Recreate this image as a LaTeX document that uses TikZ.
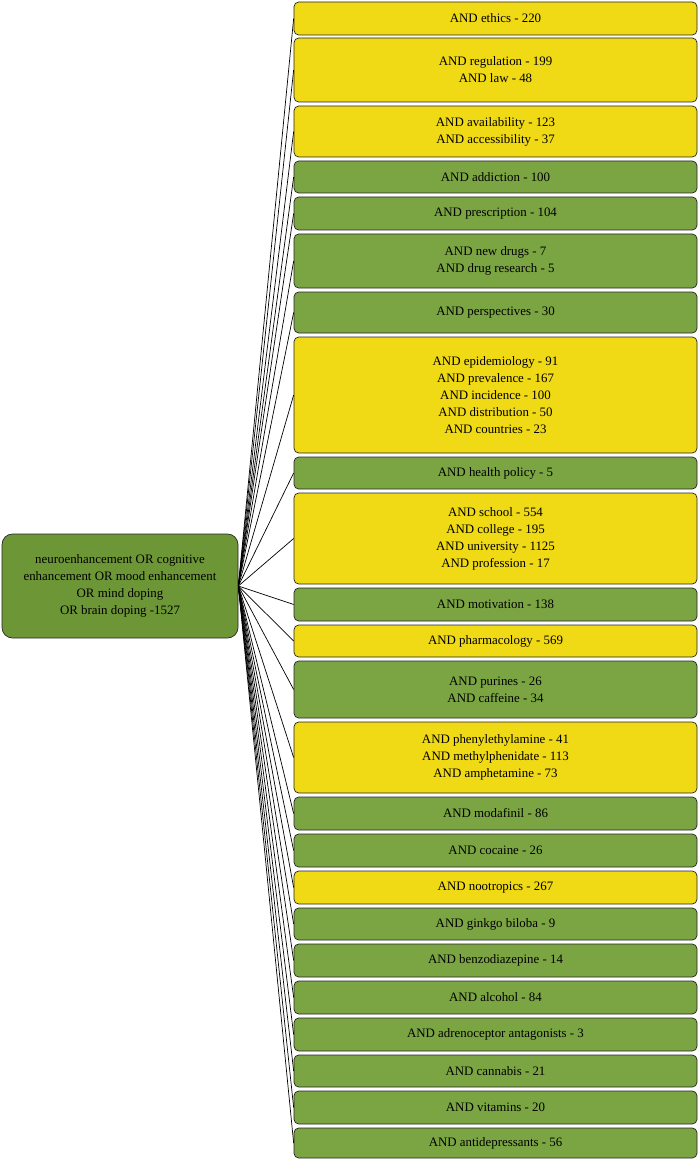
\documentclass[tikz,border=0pt]{standalone}
\usepackage{fontspec}
\setmainfont{Liberation Serif}
\definecolor{boxyellow}{HTML}{F0D915}
\definecolor{boxgreen}{HTML}{7BA443}
\definecolor{rootgreen}{HTML}{6D9736}
\tikzset{
  term/.style={draw=black!85, line width=0.6pt, rounded corners=4pt, align=center,
    font=\fontsize{11}{14.5}\selectfont, inner sep=0pt},
  root/.style={term, fill=rootgreen, rounded corners=9pt},
  link/.style={line width=0.6pt}
}
\begin{document}
\begin{tikzpicture}[x=0.03cm, y=-0.03cm]
  \useasboundingbox (0,0) rectangle (699,1160);
  \node[root, minimum width=236*0.03cm, minimum height=104*0.03cm] (root) at (120,586)
    {neuroenhancement OR cognitive\\enhancement OR mood enhancement\\OR mind doping\\OR brain doping -1527};
  % search terms: top / bottom / colour / label
  \foreach \top/\bot/\col/\txt [count=\i] in {
    2/35/boxyellow/{AND ethics - 220},
    38/102/boxyellow/{AND regulation - 199\\AND law - 48},
    106/157/boxyellow/{AND availability - 123\\AND accessibility - 37},
    161/193/boxgreen/{AND addiction - 100},
    197/230/boxgreen/{AND prescription - 104},
    234/288/boxgreen/{AND new drugs - 7\\AND drug research - 5},
    292/333/boxgreen/{AND perspectives - 30},
    337/453/boxyellow/{AND epidemiology - 91\\AND prevalence - 167\\AND incidence - 100\\AND distribution - 50\\AND countries - 23},
    457/489/boxgreen/{AND health policy - 5},
    493/584/boxyellow/{AND school - 554\\AND college - 195\\AND university - 1125\\AND profession - 17},
    588/621/boxgreen/{AND motivation - 138},
    625/657/boxyellow/{AND pharmacology - 569},
    661/718/boxgreen/{AND purines - 26\\AND caffeine - 34},
    722/793/boxyellow/{AND phenylethylamine - 41\\AND methylphenidate - 113\\AND amphetamine - 73},
    797/830/boxgreen/{AND modafinil - 86},
    834/867/boxgreen/{AND cocaine - 26},
    871/904/boxyellow/{AND nootropics - 267},
    908/940/boxgreen/{AND ginkgo biloba - 9},
    944/977/boxgreen/{AND benzodiazepine - 14},
    981/1014/boxgreen/{AND alcohol - 84},
    1018/1051/boxgreen/{AND adrenoceptor antagonists - 3},
    1055/1087/boxgreen/{AND cannabis - 21},
    1091/1124/boxgreen/{AND vitamins - 20},
    1128/1158/boxgreen/{AND antidepressants - 56}}
  {
    \pgfmathsetmacro{\h}{(\bot-\top)*0.03}
    \node[term, fill=\col, minimum width=403*0.03cm, minimum height=\h cm]
      (t\i) at (495.5,{(\top+\bot)/2}) {\txt};
    \draw[link] (root.east) -- (t\i.west);
  }
\end{tikzpicture}
\end{document}
